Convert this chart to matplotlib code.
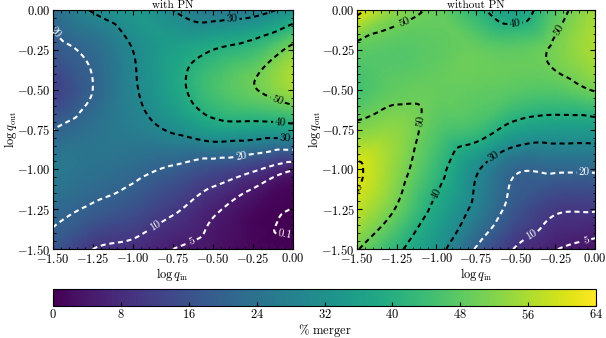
import numpy as np
import matplotlib
matplotlib.use('Agg')
import matplotlib.pyplot as plt
import matplotlib.tri as mtri
from matplotlib.ticker import FuncFormatter

plt.rcParams['font.family'] = 'serif'
plt.rcParams['font.serif'] = ['cmr10', 'DejaVu Serif']
plt.rcParams['mathtext.fontset'] = 'cm'
plt.rcParams['axes.formatter.use_mathtext'] = True

#===============================================================================
# grid in log q_in (columns) and log q_out (rows), values in % merger
log_qin  = [-1.50, -1.25, -1.00, -0.75, -0.50, -0.25, 0.00]
log_qout = [ 0.00, -0.25, -0.50, -0.75, -1.00, -1.25, -1.50]

merger_pn = [
    [23.0, 30.5, 34.0, 30.0, 26.0, 27.0, 33.0],
    [17.0, 22.0, 30.0, 36.0, 40.0, 43.5, 52.0],
    [12.0, 20.0, 29.0, 37.0, 45.0, 49.5, 55.0],
    [20.0, 24.0, 27.0, 31.0, 36.0, 36.0, 36.5],
    [26.0, 24.0, 22.0, 19.0, 15.0, 11.0,  5.5],
    [22.0, 19.0, 16.0, 11.0,  6.0,  1.8,  0.0],
    [17.0, 10.0,  8.0,  5.0,  3.0,  1.0,  0.5],
]
merger_nopn = [
    [62.0, 53.0, 49.0, 42.0, 36.0, 47.0, 55.0],
    [48.0, 47.0, 48.0, 49.0, 48.0, 51.0, 56.0],
    [45.0, 48.5, 49.0, 48.5, 47.5, 47.0, 50.5],
    [52.0, 53.0, 47.0, 44.0, 37.0, 35.0, 35.0],
    [61.0, 53.0, 43.0, 31.0, 21.0, 21.0, 21.0],
    [58.0, 49.5, 38.0, 28.0, 17.0, 11.0, 10.5],
    [50.5, 41.5, 33.0, 19.5,  9.5,  5.2,  3.0],
]
titles   = ['with PN', 'without PN']
levels_pn   = [0.1, 5, 10, 20, 30, 40, 50]
levels_nopn = [5, 10, 20, 30, 40, 50, 60]
axis_ticks = [-1.5, -1.25, -1.0, -0.75, -0.5, -0.25, 0.0]
cbar_ticks = [0, 8, 16, 24, 32, 40, 48, 56, 64]
#===============================================================================

fig = plt.figure(figsize=(6.06, 3.38), dpi=100)
ax_l = fig.add_axes([0.0870, 0.263, 0.396, 0.707])
ax_r = fig.add_axes([0.589, 0.263, 0.393, 0.707])
cax  = fig.add_axes([0.0875, 0.0950, 0.896, 0.0503])

tick_fmt = FuncFormatter(lambda v, p: r'$%.2f$' % v)

X, Y = np.meshgrid(log_qin, log_qout)
tri = mtri.Triangulation(X.ravel(), Y.ravel())
refiner = mtri.UniformTriRefiner(tri)

for ax, data, title, levels in zip([ax_l, ax_r], [merger_pn, merger_nopn],
                                   titles, [levels_pn, levels_nopn]):
    Z = np.array(data).ravel()
    interp = mtri.CubicTriInterpolator(tri, Z, kind='geom')
    tri_f, z_f = refiner.refine_field(Z, triinterpolator=interp, subdiv=4)
    im = ax.tripcolor(tri_f, z_f, shading='gouraud', cmap='viridis',
                      vmin=0, vmax=64, rasterized=True)
    colors = ['white' if lv < 25 else 'black' for lv in levels]
    cs = ax.tricontour(tri_f, z_f, levels=levels, colors=colors,
                       linestyles=[(0, (2.4, 1.8))], linewidths=1.5)
    fmt = {lv: ('0.1' if lv == 0.1 else '%d' % lv) for lv in levels}
    ax.clabel(cs, fmt=fmt, fontsize=8, inline=True, inline_spacing=2)
    ax.set_xlim(-1.5, 0)
    ax.set_ylim(-1.5, 0)
    ax.set_xticks(axis_ticks)
    ax.set_yticks(axis_ticks)
    ax.xaxis.set_major_formatter(tick_fmt)
    ax.yaxis.set_major_formatter(tick_fmt)
    ax.minorticks_on()
    ax.tick_params(which='both', direction='in', top=True, right=True,
                   labelsize=9)
    ax.tick_params(axis='x', pad=2)
    ax.tick_params(axis='y', pad=1.5)
    ax.tick_params(which='major', length=3.5)
    ax.tick_params(which='minor', length=1.8)
    ax.set_title(title, fontsize=8, pad=1.5)
    ax.set_xlabel(r'$\log q_{\rm in}$', fontsize=9, labelpad=0)
    ax.set_ylabel(r'$\log q_{\rm out}$', fontsize=9, labelpad=-1)

cb = fig.colorbar(im, cax=cax, orientation='horizontal', ticks=cbar_ticks)
cb.ax.xaxis.set_major_formatter(FuncFormatter(lambda v, p: r'$%d$' % v))
cb.ax.tick_params(labelsize=9, direction='in', length=3, pad=1.5)
cb.set_label(r'$\%$ merger', fontsize=9, labelpad=0)

plt.savefig('out.png', dpi=100)
